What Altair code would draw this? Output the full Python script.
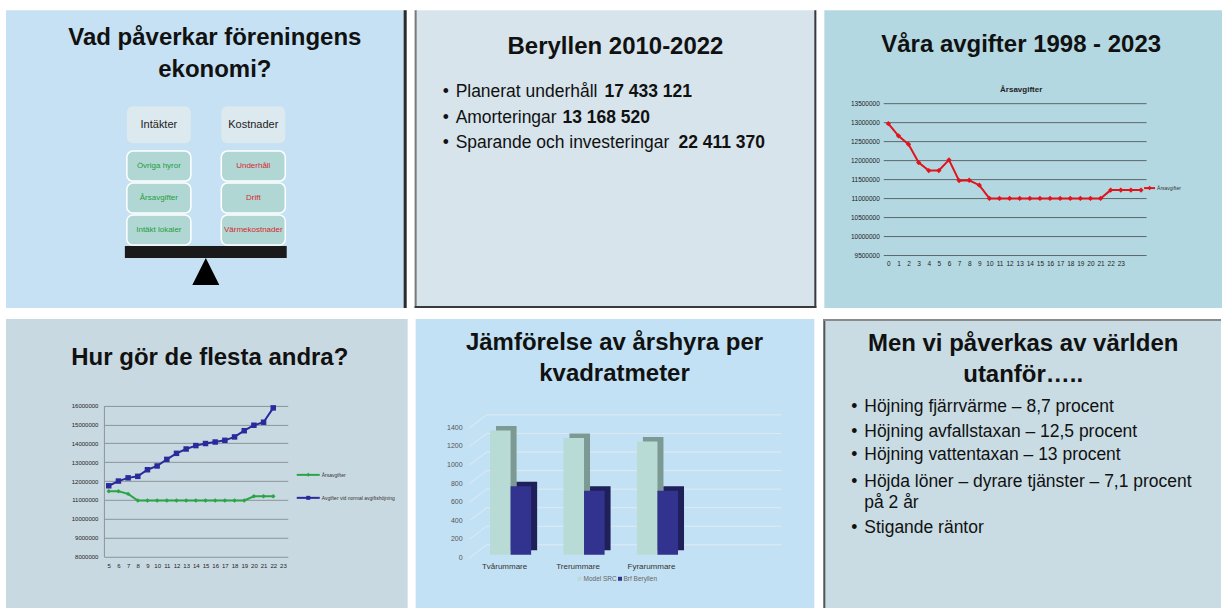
import altair as alt
import pandas as pd

FONT = "Liberation Sans"

# ---------------- data ----------------
# Slide 1
p1_title = ["Vad påverkar föreningens", "ekonomi?"]
p1_headers = ["Intäkter", "Kostnader"]
p1_income = ["Övriga hyror", "Årsavgifter", "Intäkt lokaler"]
p1_costs = ["Underhåll", "Drift", "Värmekostnader"]

# Slide 2
p2_title = "Beryllen 2010-2022"
p2_items = ["Planerat underhåll", "Amorteringar", "Sparande och investeringar"]
p2_amounts = ["17 433 121", "13 168 520", "22 411 370"]

# Slide 3
p3_title = "Våra avgifter 1998 - 2023"
p3_chart_title = "Årsavgifter"
p3_x = [0, 1, 2, 3, 4, 5, 6, 7, 8, 9, 10, 11, 12, 13, 14, 15, 16, 17, 18, 19, 20, 21, 22, 23, 24, 25]
p3_values = [12960000, 12640000, 12415000, 11935000, 11725000, 11725000, 12005000,
             11460000, 11470000, 11340000, 10990000, 10990000, 10990000, 10990000,
             10990000, 10990000, 10990000, 10990000, 10990000, 10990000, 10990000,
             10990000, 11210000, 11210000, 11210000, 11210000]
p3_yticks = [9500000, 10000000, 10500000, 11000000, 11500000, 12000000, 12500000, 13000000, 13500000]

# Slide 4
p4_title = "Hur gör de flesta andra?"
p4_x_labels = [5, 6, 7, 8, 9, 10, 11, 12, 13, 14, 15, 16, 17, 18, 19, 20, 21, 22, 23]
p4_years = [5, 6, 7, 8, 9, 10, 11, 12, 13, 14, 15, 16, 17, 18, 19, 20, 21, 22]
p4_arsavgifter = [11460000, 11460000, 11320000, 10970000, 10970000, 10970000, 10970000,
                  10970000, 10970000, 10970000, 10970000, 10970000, 10970000, 10970000,
                  10970000, 11190000, 11190000, 11190000]
p4_normal = [11750000, 12000000, 12170000, 12250000, 12600000, 12800000, 13150000,
             13470000, 13700000, 13880000, 13990000, 14070000, 14160000, 14340000,
             14670000, 14960000, 15120000, 15880000]
p4_yticks = [8000000, 9000000, 10000000, 11000000, 12000000, 13000000, 14000000, 15000000, 16000000]
p4_series = ["Årsavgifter", "Avgifter vid normal avgiftshöjning"]

# Slide 5
p5_title = ["Jämförelse av årshyra per", "kvadratmeter"]
p5_categories = ["Tvårummare", "Trerummare", "Fyrarummare"]
p5_series = ["Model SRC", "Brf Beryllen"]
p5_model_src = [1340, 1260, 1220]
p5_brf = [740, 690, 690]
p5_yticks = [0, 200, 400, 600, 800, 1000, 1200, 1400]

# Slide 6
p6_title = ["Men vi påverkas av världen", "utanför….."]
p6_items = ["Höjning fjärrvärme – 8,7 procent", "Höjning avfallstaxan – 12,5 procent",
            "Höjning vattentaxan – 13 procent", "Höjda löner – dyrare tjänster – 7,1 procent",
            "på 2 år", "Stigande räntor"]
p6_bullet = [True, True, True, True, False, True]

# ---------------- style ----------------
RED = "#e0141c"
GREEN = "#2aa546"
BLUE = "#2a2a9c"
TXT = "#111111"


def one(s):
    return pd.DataFrame({"t": [s]})


def text_mark(s, x, y, size, weight="normal", color=TXT, align="center"):
    return alt.Chart(one(s)).mark_text(
        font=FONT, fontSize=size, fontWeight=weight, color=color, align=align, baseline="middle"
    ).encode(x=alt.value(x), y=alt.value(y), text="t:N")


def rule_mark(x, x2, y, y2, color, width):
    return alt.Chart(one("")).mark_rule(color=color, strokeWidth=width).encode(
        x=alt.value(x), x2=alt.value(x2), y=alt.value(y), y2=alt.value(y2))


def panel(layers, w, h, fill):
    return alt.layer(*layers).properties(
        width=w, height=h, view=alt.ViewBackground(fill=fill, strokeWidth=0))


# ---------------- slide 1 ----------------
W1, H1 = 401, 298
xs1 = alt.Scale(domain=[0, 1], range=[153, 247.5], zero=False, nice=False)
ys1 = alt.Scale(domain=[1, 3], range=[156, 220], zero=False, nice=False)

hdr = pd.DataFrame({"label": p1_headers, "col": [0, 1]})
hdr["x0"] = hdr["col"] - 0.339
hdr["x1"] = hdr["col"] + 0.339
hdr["yc"] = -0.297
hdr["y0"] = -0.875
hdr["y1"] = 0.281

items = pd.DataFrame({
    "label": p1_income + p1_costs,
    "col": [0, 0, 0, 1, 1, 1],
    "row": [1, 2, 3, 1, 2, 3],
})
items["x0"] = items["col"] - 0.339
items["x1"] = items["col"] + 0.339
items["y0"] = items["row"] - 0.469
items["y1"] = items["row"] + 0.469

beam = pd.DataFrame({"x0": [-0.36], "x1": [1.354], "y0": [3.5], "y1": [3.875]})
pivot = pd.DataFrame({"x": [0.497], "y": [4.297]})

p1_layers = [
    alt.Chart(hdr).mark_rect(cornerRadius=6, color="#dce9ef").encode(
        x=alt.X("x0:Q", scale=xs1, axis=None), x2="x1:Q",
        y=alt.Y("y0:Q", scale=ys1, axis=None), y2="y1:Q"),
    alt.Chart(hdr).mark_text(font=FONT, fontSize=11, color="#222222").encode(
        x=alt.X("col:Q", scale=xs1, axis=None), y=alt.Y("yc:Q", scale=ys1, axis=None), text="label:N"),
    alt.Chart(items).mark_rect(cornerRadius=6, fill="#b1d7d5", stroke="white", strokeWidth=1.5).encode(
        x=alt.X("x0:Q", scale=xs1, axis=None), x2="x1:Q",
        y=alt.Y("y0:Q", scale=ys1, axis=None), y2="y1:Q"),
    alt.Chart(items[items["col"] == 0]).mark_text(font=FONT, fontSize=8, color="#1f9e3c").encode(
        x=alt.X("col:Q", scale=xs1, axis=None), y=alt.Y("row:Q", scale=ys1, axis=None), text="label:N"),
    alt.Chart(items[items["col"] == 1]).mark_text(font=FONT, fontSize=8, color="#d8262c").encode(
        x=alt.X("col:Q", scale=xs1, axis=None), y=alt.Y("row:Q", scale=ys1, axis=None), text="label:N"),
    alt.Chart(beam).mark_rect(color="#1a1a1a").encode(
        x=alt.X("x0:Q", scale=xs1, axis=None), x2="x1:Q",
        y=alt.Y("y0:Q", scale=ys1, axis=None), y2="y1:Q"),
    alt.Chart(pivot).mark_point(shape="M-1,1L0,-1L1,1Z", size=729, filled=True, color="#000000", opacity=1).encode(
        x=alt.X("x:Q", scale=xs1, axis=None), y=alt.Y("y:Q", scale=ys1, axis=None)),
    text_mark(p1_title[0], 209, 28, 24, "bold"),
    text_mark(p1_title[1], 209, 60, 24, "bold"),
    rule_mark(399.5, 399.5, 0, H1, "#2b2b2b", 3),
]
p1 = panel(p1_layers, W1, H1, "#c5e1f3")

# ---------------- slide 2 ----------------
W2, H2 = 402, 298
p2_layers = [text_mark(p2_title, 201, 37, 24, "bold")]
p2_y = [82, 108, 133]
p2_bold_x = [190, 148, 264]
for k in range(3):
    p2_layers.append(text_mark("•", 28, p2_y[k], 17.5, align="left"))
    p2_layers.append(text_mark(p2_items[k], 41, p2_y[k], 17.5, align="left"))
    p2_layers.append(text_mark(p2_amounts[k], p2_bold_x[k], p2_y[k], 17.5, "bold", align="left"))
p2_layers += [
    rule_mark(1, 1, 0, H2, "#7a7a7a", 2),
    rule_mark(401, 401, 0, H2, "#3a3a3a", 2),
    rule_mark(0, W2, 297, 297, "#3a3a3a", 2),
]
p2 = panel(p2_layers, W2, H2, "#d7e4ec")

# ---------------- slide 3 ----------------
W3, H3 = 398, 298
p3_df = pd.DataFrame({"i": p3_x, "v": p3_values})
p3_xs = alt.Scale(type="point", domain=p3_x, range=[59, 322], padding=0.5)
p3_ys = alt.Scale(domain=[9500000, 13500000], range=[245, 93], zero=False, nice=False)
p3_xaxis = alt.Axis(
    orient="bottom", offset=-53, domain=False, ticks=False, grid=False, labelAngle=0,
    labelFont=FONT, labelFontSize=6.5, labelColor="#222222", labelPadding=5, title=None,
    labelOverlap=False, labelExpr="datum.value <= 23 ? datum.label : ''")
p3_yaxis = alt.Axis(
    orient="left", offset=-59, values=p3_yticks, format="d", domain=False, ticks=False,
    grid=True, gridColor="#5a666b", gridWidth=1, labelFont=FONT, labelFontSize=6.5,
    labelColor="#222222", labelPadding=4, title=None, labelOverlap=False, labelFlush=False)
p3_layers = [
    alt.Chart(p3_df).mark_line(color=RED, strokeWidth=2).encode(
        x=alt.X("i:O", scale=p3_xs, axis=p3_xaxis),
        y=alt.Y("v:Q", scale=p3_ys, axis=p3_yaxis)),
    alt.Chart(p3_df).mark_point(shape="diamond", filled=True, size=28, color=RED, opacity=1).encode(
        x=alt.X("i:O", scale=p3_xs, axis=p3_xaxis), y=alt.Y("v:Q", scale=p3_ys, axis=p3_yaxis)),
    text_mark(p3_title, 197, 35, 24, "bold"),
    text_mark(p3_chart_title, 197, 80, 8, "bold", color="#222222"),
    rule_mark(320, 331, 178, 178, RED, 2),
    alt.Chart(one("")).mark_point(shape="diamond", filled=True, size=20, color=RED, opacity=1).encode(
        x=alt.value(325.5), y=alt.value(178)),
    text_mark(p3_chart_title, 333, 178, 5, color="#333333", align="left"),
]
p3 = panel(p3_layers, W3, H3, "#b4d8e2")

# ---------------- slide 4 ----------------
W4, H4 = 402, 294
p4_a = pd.DataFrame({"x": p4_years, "v": p4_arsavgifter})
p4_b = pd.DataFrame({"x": p4_years, "v": p4_normal})
p4_xs = alt.Scale(type="point", domain=p4_x_labels, range=[98, 282], padding=0.5)
p4_ys = alt.Scale(domain=[8000000, 16000000], range=[237.7, 86.7], zero=False, nice=False)
p4_xaxis = alt.Axis(
    orient="bottom", offset=-56.3, domain=False, ticks=False, grid=False, labelAngle=0,
    labelFont=FONT, labelFontSize=6, labelColor="#222222", labelPadding=6, title=None,
    labelOverlap=False)
p4_yaxis = alt.Axis(
    orient="left", offset=-98, values=p4_yticks, format="d", domain=True, domainColor="#8c9599",
    ticks=False, grid=True, gridColor="#8c9599", gridWidth=1, labelFont=FONT, labelFontSize=6,
    labelColor="#222222", labelPadding=6, title=None, labelOverlap=False, labelFlush=False)


def p4_enc(ch):
    return ch.encode(x=alt.X("x:O", scale=p4_xs, axis=p4_xaxis), y=alt.Y("v:Q", scale=p4_ys, axis=p4_yaxis))


p4_layers = [
    p4_enc(alt.Chart(p4_a).mark_line(strokeWidth=2, color=GREEN)),
    p4_enc(alt.Chart(p4_a).mark_point(shape="diamond", filled=True, size=20, color=GREEN, opacity=1)),
    p4_enc(alt.Chart(p4_b).mark_line(strokeWidth=2, color=BLUE)),
    p4_enc(alt.Chart(p4_b).mark_point(shape="square", filled=True, size=30, color=BLUE, opacity=1)),
    text_mark(p4_title, 204, 39, 24, "bold"),
    rule_mark(291, 314, 156, 156, GREEN, 2),
    alt.Chart(one("")).mark_point(shape="diamond", filled=True, size=16, color=GREEN, opacity=1).encode(
        x=alt.value(302.5), y=alt.value(156)),
    text_mark(p4_series[0], 316, 156, 5, color="#333333", align="left"),
    rule_mark(291, 314, 179, 179, BLUE, 2),
    alt.Chart(one("")).mark_point(shape="square", filled=True, size=16, color=BLUE, opacity=1).encode(
        x=alt.value(302.5), y=alt.value(179)),
    text_mark(p4_series[1], 316, 179, 5, color="#333333", align="left"),
]
p4 = panel(p4_layers, W4, H4, "#c9d9e1")

# ---------------- slide 5 ----------------
W5, H5 = 399, 294
idx = [0, 1, 2]
p5_m = pd.DataFrame({"cat": p5_categories, "i": idx, "v": p5_model_src})
p5_m["x0"] = p5_m["i"] - 0.28
p5_m["x1"] = p5_m["i"]
p5_m["z"] = 0
p5_b = pd.DataFrame({"cat": p5_categories, "i": idx, "v": p5_brf})
p5_b["x0"] = p5_b["i"]
p5_b["x1"] = p5_b["i"] + 0.28
p5_b["z"] = 0
p5_ticks = pd.DataFrame({"v": p5_yticks})
p5_xs = alt.Scale(domain=[0, 2], range=[95, 242], zero=False, nice=False)
p5_ys = alt.Scale(domain=[0, 1400], range=[239, 109], zero=False, nice=False)
GRID5 = "#dfeaf2"


def p5_bar(df, color, shadow):
    if shadow:
        m = alt.Chart(df).mark_rect(color=color, xOffset=6, x2Offset=6, yOffset=-7.5, y2Offset=-7.5)
    else:
        m = alt.Chart(df).mark_rect(color=color, yOffset=-3, y2Offset=-3)
    return m.encode(x=alt.X("x0:Q", scale=p5_xs, axis=None), x2="x1:Q",
                    y=alt.Y("v:Q", scale=p5_ys, axis=None), y2="z:Q")


p5_layers = [
    alt.Chart(p5_ticks).mark_rule(color=GRID5, strokeWidth=1, y2Offset=-13).encode(
        x=alt.value(54), x2=alt.value(71), y=alt.Y("v:Q", scale=p5_ys, axis=None), y2="v:Q"),
    alt.Chart(p5_ticks).mark_rule(color=GRID5, strokeWidth=1, yOffset=-13).encode(
        x=alt.value(71), x2=alt.value(366), y=alt.Y("v:Q", scale=p5_ys, axis=None)),
    alt.Chart(p5_ticks).mark_text(font=FONT, fontSize=7, color="#555555", align="right", baseline="middle").encode(
        x=alt.value(47), y=alt.Y("v:Q", scale=p5_ys, axis=None), text=alt.Text("v:Q", format="d")),
    p5_bar(p5_m, "#7c9993", True),
    p5_bar(p5_b, "#1f1f5a", True),
    p5_bar(p5_m, "#b8dcd5", False),
    p5_bar(p5_b, "#32328f", False),
    alt.Chart(p5_m).mark_text(font=FONT, fontSize=8, color="#333333", dx=-6).encode(
        x=alt.X("i:Q", scale=p5_xs, axis=None), y=alt.value(248), text="cat:N"),
    text_mark(p5_title[0], 199, 24, 24, "bold"),
    text_mark(p5_title[1], 199, 55, 24, "bold"),
    alt.Chart(one(p5_series[0])).mark_point(shape="square", filled=True, size=16, color="#b8dcd5", opacity=1).encode(
        x=alt.value(164), y=alt.value(260)),
    text_mark(p5_series[0], 168, 260, 6.5, color="#666666", align="left"),
    alt.Chart(one(p5_series[1])).mark_point(shape="square", filled=True, size=16, color="#32328f", opacity=1).encode(
        x=alt.value(204.5), y=alt.value(260)),
    text_mark(p5_series[1], 208, 260, 6.5, color="#666666", align="left"),
]
p5 = panel(p5_layers, W5, H5, "#c3e1f4")

# ---------------- slide 6 ----------------
W6, H6 = 398, 294
p6_y = [88, 113, 136, 163, 184, 209]
p6_layers = [
    text_mark(p6_title[0], 200, 25, 24, "bold"),
    text_mark(p6_title[1], 200, 56, 24, "bold"),
]
for k, s in enumerate(p6_items):
    if p6_bullet[k]:
        p6_layers.append(text_mark("•", 28, p6_y[k], 17.5, align="left"))
    p6_layers.append(text_mark(s, 41, p6_y[k], 17.5, align="left"))
p6_layers += [
    rule_mark(1, 1, 0, H6, "#555555", 2),
    rule_mark(0, W6, 1, 1, "#8a8a8a", 2),
]
p6 = panel(p6_layers, W6, H6, "#c9dce4")

row1 = alt.hconcat(p1, p2, p3, spacing=7)
row2 = alt.hconcat(p4, p5, p6, spacing=8)
chart = alt.vconcat(row1, row2, spacing=8).properties(
    padding={"left": 6, "top": 8, "right": 0, "bottom": 0}, background="white"
).configure_view(strokeWidth=0)

chart.save("out.html", embed_options={"renderer": "svg", "actions": False})
